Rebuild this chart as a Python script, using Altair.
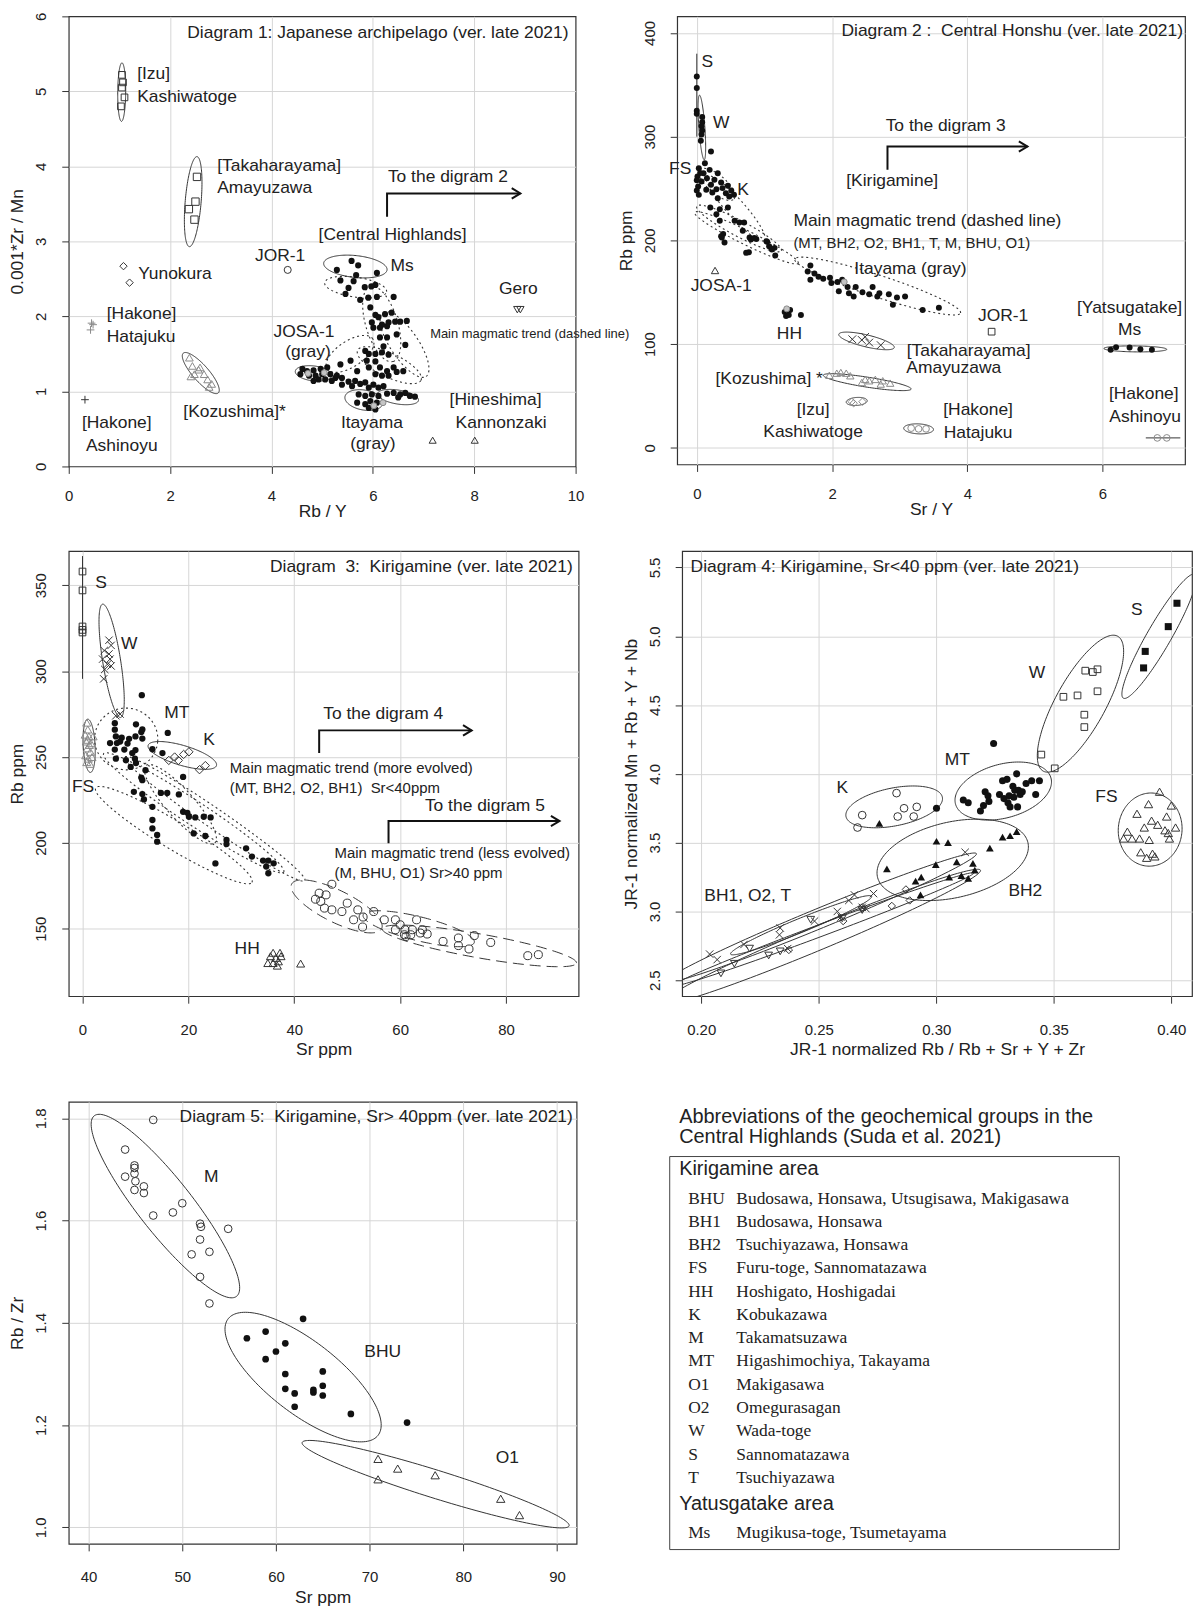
import altair as alt
import numpy as np
import pandas as pd

SANS = "Liberation Sans"
SERIF = "Liberation Serif"
INK = "#222222"
GRID = "#d6d6d6"
OPEN = "#333333"
GRAY = "#8a8a8a"
NB = "\u00a0"

# ---------------- Diagram 1 : Japanese archipelago ----------------
d1_izu = [(1.05, 5.22), (1.07, 5.12), (1.05, 5.05), (1.10, 4.92), (1.03, 4.80)]
d1_taka = [(2.53, 3.86), (2.50, 3.53), (2.37, 3.43), (2.48, 3.29)]
d1_yuno = [(1.08, 2.67), (1.20, 2.45)]
d1_hata = [(0.45, 1.91), (0.48, 1.89), (0.43, 1.82)]
d1_ashi = [(0.32, 0.89)]
d1_kozu = [(2.38, 1.45), (2.44, 1.34), (2.56, 1.29), (2.48, 1.23), (2.59, 1.32),
           (2.41, 1.20), (2.74, 1.16), (2.82, 1.10), (2.77, 1.06), (2.67, 1.23)]
d1_jor = [(4.32, 2.62)]
d1_gero = [(8.85, 2.09), (8.91, 2.09)]
d1_hine = [(7.18, 0.35), (8.01, 0.35)]
d1_gray = [(5.04, 1.25), (6.20, 0.85), (6.02, 0.81), (4.72, 1.24)]
d1_central = [
    (5.29, 2.62), (5.58, 2.74), (5.71, 2.68), (6.08, 2.58),
    (5.67, 2.55), (5.36, 2.48), (5.62, 2.47), (5.52, 2.38), (5.84, 2.39), (5.97, 2.40),
    (6.05, 2.42), (5.46, 2.30), (5.75, 2.22), (5.91, 2.25), (6.08, 2.26), (6.41, 2.26),
    (5.95, 2.12), (6.05, 2.02), (6.24, 2.03), (6.37, 2.05), (6.11, 1.99), (5.98, 1.92),
    (6.18, 1.89), (6.31, 1.92), (6.44, 1.93), (6.54, 1.93), (6.67, 1.94), (6.01, 1.85),
    (6.14, 1.85), (6.28, 1.87), (6.14, 1.72), (6.28, 1.72), (6.47, 1.76), (6.21, 1.60),
    (6.64, 1.62), (5.85, 1.54), (5.92, 1.50), (6.05, 1.50), (6.18, 1.52), (6.31, 1.49),
    (5.56, 1.41), (5.36, 1.36), (5.88, 1.41), (6.05, 1.40), (5.69, 1.27), (5.92, 1.32),
    (6.14, 1.32), (6.28, 1.27), (6.41, 1.32), (6.05, 1.23), (6.18, 1.21), (6.31, 1.21),
    (6.47, 1.26), (6.60, 1.27),
    (4.61, 1.30), (4.70, 1.27), (4.83, 1.28), (4.97, 1.30), (5.10, 1.32), (4.74, 1.21),
    (4.87, 1.21), (5.00, 1.23), (5.16, 1.23), (5.26, 1.18), (5.39, 1.18), (5.52, 1.13),
    (5.65, 1.14), (5.75, 1.10), (5.85, 1.12), (5.59, 1.07), (5.92, 1.05), (6.01, 1.09),
    (6.11, 1.05), (6.21, 1.07),
    (6.28, 0.97), (6.41, 0.98), (6.54, 0.96), (6.64, 0.98), (6.73, 0.94), (6.83, 0.93),
    (6.50, 0.92), (5.72, 0.96), (5.85, 0.94), (5.98, 0.96), (6.11, 0.94), (5.69, 0.85),
    (5.85, 0.83), (5.95, 0.87), (6.08, 0.85), (5.92, 0.78), (6.05, 0.76), (5.29, 1.21),
    (4.57, 1.23), (4.93, 1.16), (5.06, 1.16), (4.83, 1.14), (5.19, 1.14), (5.39, 1.09)]
# ellipses: major-axis end points (x1, y1, x2, y2) and minor half-width in px
d1_ell_solid = [(1.05, 5.38, 1.04, 4.60, 4), (2.53, 4.13, 2.38, 2.93, 8),
                (2.26, 1.51, 2.95, 0.98, 8), (5.03, 2.71, 6.28, 2.62, 11),
                (4.47, 1.27, 5.19, 1.21, 7.5), (5.45, 0.93, 6.20, 0.84, 10),
                (6.09, 0.97, 6.90, 0.88, 7)]
d1_ell_dot = [(5.05, 2.45, 6.27, 2.33, 10), (5.95, 2.40, 6.40, 1.40, 16),
              (6.20, 2.05, 7.05, 1.20, 14), (5.10, 1.30, 6.00, 1.70, 13),
              (5.70, 1.55, 6.95, 1.15, 12)]
d1_arrow = [(6.28, 3.33), (6.28, 3.64), (8.91, 3.64)]
d1_text = [
    ("Diagram 1: Japanese archipelago (ver. late 2021)", 9.86, 5.78, "right", 17.5),
    ("[Izu]", 1.35, 5.23, "left", 17.5), ("Kashiwatoge", 1.35, 4.92, "left", 17.5),
    ("[Takaharayama]", 2.93, 4.00, "left", 17.5), ("Amayuzawa", 2.93, 3.71, "left", 17.5),
    ("Yunokura", 1.37, 2.56, "left", 17.5),
    ("[Hakone]", 0.75, 2.03, "left", 17.5), ("Hatajuku", 0.75, 1.72, "left", 17.5),
    ("[Hakone]", 0.26, 0.58, "left", 17.5), ("Ashinoyu", 0.34, 0.27, "left", 17.5),
    ("[Kozushima]*", 2.26, 0.72, "left", 17.5),
    ("JOR-1", 4.17, 2.80, "center", 17.5),
    ("[Central Highlands]", 6.39, 3.09, "center", 17.5),
    ("Ms", 6.35, 2.67, "left", 17.5), ("Gero", 8.87, 2.36, "center", 17.5),
    ("JOSA-1", 4.64, 1.79, "center", 17.5), ("(gray)", 4.72, 1.52, "center", 17.5),
    ("Itayama", 5.98, 0.58, "center", 17.5), ("(gray)", 6.00, 0.30, "center", 17.5),
    ("[Hineshima]", 8.42, 0.88, "center", 17.5), ("Kannonzaki", 8.53, 0.58, "center", 17.5),
    ("To the digram 2", 7.48, 3.86, "center", 17.5),
    ("Main magmatic trend (dashed line)", 7.13, 1.76, "left", 13)]

# ---------------- Diagram 2 : Central Honshu ----------------
d2_kiri = [
    (0.0, 358), (0.0, 347), (0.0, 325), (0.0, 322),
    (0.08, 319), (0.08, 314), (0.07, 310), (0.08, 306), (0.07, 302), (0.06, 296),
    (0.21, 285.6), (0.12, 274.4), (0.03, 269.6), (0.19, 268), (0.10, 264.8), (0.31, 264.8),
    (0.01, 261.6), (0.15, 260), (0.26, 258.4), (0.07, 256.8), (0.36, 255.9), (0.21, 253.6),
    (0.02, 252), (0.46, 252.6), (0.14, 248.8), (0.29, 249.4), (0.38, 250.4), (0.51, 248.1),
    (0.03, 243.9), (0.23, 246.1), (0.43, 245.5), (0.31, 240.7), (0.48, 242.3), (0.20, 231.7),
    (0.34, 230.1), (0.46, 231.7), (0.29, 225.3), (0.34, 218.9), (0.56, 218.9), (0.63, 217.3),
    (0.70, 217.3), (0.39, 206.1), (0.68, 209.3), (0.78, 202.9), (0.88, 201.3), (0.37, 202.9),
    (1.04, 198.7), (0.0, 248), (0.05, 265), (0.0, 258), (0.55, 244),
    (0.36, 204), (0.41, 198), (0.77, 188.6), (0.73, 188), (0.80, 200.8), (0.85, 202.4),
    (1.03, 199.2), (1.07, 194.4), (1.15, 192.8), (1.16, 185.4), (1.11, 191.2),
    (1.68, 175.8), (1.64, 170), (1.74, 168), (1.80, 165), (1.68, 162), (1.87, 163),
    (1.97, 164), (1.99, 159), (2.08, 160), (2.15, 162), (2.23, 155), (2.10, 151),
    (2.35, 155), (2.25, 149), (2.45, 150), (2.60, 155), (2.55, 148), (2.67, 146),
    (2.70, 149), (2.84, 148), (2.96, 145), (3.08, 146), (2.90, 138), (3.34, 133),
    (3.58, 135), (2.32, 146),
    (1.30, 131), (1.34, 129), (1.32, 127), (1.38, 133), (1.36, 128), (1.54, 128)]
d2_gray = [(2.18, 160), (1.33, 134)]
d2_josa = [(0.27, 171)]
d2_jor = [(4.36, 112)]
d2_taka = [(2.30, 104.7), (2.44, 104), (2.49, 107), (2.55, 101.5), (2.72, 99)]
d2_kozu = [(1.96, 70), (2.07, 72), (2.13, 72.7), (2.21, 72), (2.27, 69.5), (2.49, 66),
           (2.55, 64.7), (2.64, 66), (2.75, 64.7), (2.86, 62.4), (2.44, 63), (2.72, 61.5)]
d2_izu = [(2.29, 44.5), (2.45, 44.5), (2.32, 43)]
d2_hata = [(3.17, 19), (3.28, 18.3), (3.39, 18.3)]
d2_yatsu = [(6.12, 94.5), (6.20, 97), (6.40, 96.7), (6.56, 95), (6.73, 94.5)]
d2_ashi = [(6.81, 9.6), (6.95, 9.6)]
d2_ell_solid = [(0.04, 340, 0.11, 277.7, 3), (2.10, 109.5, 2.92, 96.7, 6),
                (1.87, 70, 3.17, 56.7, 5), (2.21, 44, 2.52, 45.5, 4),
                (3.06, 19, 3.50, 17.6, 5), (6.02, 95.8, 6.95, 95, 3)]
d2_ell_dot = [(-0.03, 227, 1.50, 178, 7), (0.0, 233, 1.25, 190, 8),
              (1.45, 182, 3.90, 130, 11), (0.15, 262, 1.00, 200, 9),
              (0.05, 268, 0.55, 240, 9)]
d2_lines = [[(0.0, 300), (0.0, 380)], [(6.64, 9.6), (7.15, 9.6)]]
d2_arrow = [(2.82, 268), (2.82, 290.5), (4.89, 290.5)]
d2_text = [
    ("Diagram 2 :" + NB + " Central Honshu (ver. late 2021)", 7.19, 402, "right", 17.5),
    ("S", 0.07, 372, "left", 17.5), ("W", 0.24, 313, "left", 17.5),
    ("FS", -0.41, 269, "left", 17.5), ("K", 0.60, 249, "left", 17.5),
    ("To the digram 3", 3.68, 310.6, "center", 17.5),
    ("[Kirigamine]", 2.89, 257, "center", 17.5),
    ("Main magmatic trend (dashed line)", 3.41, 219, "center", 17.5),
    ("(MT, BH2, O2, BH1, T, M, BHU, O1)", 3.18, 197.6, "center", 15),
    ("Itayama (gray)", 3.16, 172, "center", 17.5),
    ("JOSA-1", 0.36, 156, "center", 17.5), ("HH", 1.37, 109.5, "center", 17.5),
    ("JOR-1", 4.53, 127, "center", 17.5),
    ("[Takaharayama]", 4.02, 93.5, "center", 17.5), ("Amayuzawa", 3.80, 76.5, "center", 17.5),
    ("[Kozushima] *", 1.07, 66, "center", 17.5),
    ("[Izu]", 1.72, 36.5, "center", 17.5), ("Kashiwatoge", 1.72, 15, "center", 17.5),
    ("[Hakone]", 4.16, 36.5, "center", 17.5), ("Hatajuku", 4.16, 14.4, "center", 17.5),
    ("[Yatsugatake]", 6.40, 135, "center", 17.5), ("Ms", 6.40, 114, "center", 17.5),
    ("[Hakone]", 6.61, 52, "center", 17.5), ("Ashinoyu", 6.63, 29.5, "center", 17.5)]

# ---------------- Diagram 3 : Kirigamine ----------------
d3_S = [(0, 358), (0, 347), (0, 326), (0, 324), (0, 322.5)]
d3_W = [(5.0, 318), (5.4, 315), (4.1, 312), (5.0, 310), (3.8, 307), (5.2, 307), (4.7, 304),
        (5.4, 303), (4.2, 301), (4.0, 295.5), (7.1, 275), (6.3, 274)]
d3_FS = [(0.8, 270), (1.0, 266), (0.5, 263), (1.2, 262), (0.7, 259), (1.3, 257), (0.9, 255),
         (1.5, 253), (0.6, 251), (1.1, 249), (0.8, 247), (1.4, 246), (1.8, 250), (2.0, 262),
         (1.0, 260), (1.6, 258)]
d3_K = [(16.3, 248), (17.4, 250), (18.1, 248), (19.1, 251.5), (20.1, 253), (22.1, 242.6),
        (23.2, 245)]
d3_HH = [(35.5, 134), (36.0, 136), (36.5, 133), (37.0, 131), (36.0, 130), (37.5, 134),
         (35.0, 130), (36.8, 128.5), (37.3, 136), (41.2, 129.7)]
d3_low_sr = [
    (6.1, 269.7), (10.1, 269), (16.1, 264), (6.1, 265.9), (11.1, 264.5), (6.3, 262),
    (7.4, 261.2), (5.2, 258.1), (6.5, 258.1), (11.3, 260.7), (8.5, 257.8), (13.2, 254.5),
    (15.1, 252.3), (6.1, 254.3), (7.9, 254.3), (9.4, 252.3), (6.3, 249), (8.2, 248.1),
    (10.1, 246.5), (9.1, 244.2), (11.9, 242.3), (19.0, 238.4), (11.1, 238), (11.3, 236.5),
    (9.7, 229.7), (14.8, 229.1), (16.0, 229.1), (18.2, 228.2), (11.3, 228.4), (11.6, 225.3),
    (13.2, 221), (19.0, 218.1), (20.1, 215.2), (21.3, 214.8), (22.9, 215.2), (24.2, 214.8),
    (13.2, 213.3), (19.8, 217.5), (21.0, 205.5), (23.2, 204), (13.2, 208.4), (14.1, 204.6),
    (14.1, 200.7), (27.2, 201.7), (27.2, 199.3), (30.9, 196.8), (32.0, 192), (34.1, 189.7),
    (35.1, 189.7), (36.1, 188.1), (34.7, 186.2), (35.1, 182.3), (25.1, 188.0), (11.2, 286),
    (7.1, 259), (10.0, 262), (11.3, 266), (9.9, 249), (10.0, 254), (8.8, 260.6)]
d3_high_sr = [
    (47.1, 175.9), (44.0, 167.2), (45.0, 165.9), (46.0, 169.7), (44.7, 170.7), (45.7, 162.0),
    (47.1, 161.0), (49.0, 160.0), (50.0, 164.9), (52.0, 161.0), (53.0, 156.8), (51.2, 155.2),
    (52.9, 151.0), (55.0, 160.0), (57.0, 155.2), (59.1, 155.2), (60.0, 152.3), (59.1, 149.4),
    (60.9, 149.4), (60.8, 146.5), (61.1, 145.5), (62.3, 149.4), (63.1, 155.2), (62.0, 146.5),
    (63.8, 147.5), (64.2, 149.4), (65.1, 146.9), (68.1, 142.6), (71.0, 144.6), (71.0, 140.2),
    (73.0, 138.2), (74.0, 146.0), (77.1, 142.0), (84.1, 134.3), (86.1, 134.9)]
d3_ell_solid = [(3.8, 339, 7.2, 273, 9), (1.0, 272, 1.5, 241, 6), (12.4, 256.8, 25.3, 245, 10)]
d3_ell_long = [(39.5, 176, 56.5, 150, 16), (53, 158, 74, 142, 12), (56.6, 150, 93.3, 130, 12)]
d3_ell_dot = [(2.3, 262, 14.2, 259, 31), (2.5, 232, 32, 177, 14), (4.0, 252, 38, 183, 12),
              (8, 250, 42, 178, 10), (12, 245, 25, 200, 14)]
d3_lines = [[(0, 295.5), (0, 367)]]
d3_arrows = [[(44.7, 252.3), (44.7, 265.5), (73.5, 265.5)],
             [(57.8, 199.7), (57.8, 212.7), (90.1, 212.7)]]
d3_text = [
    ("Diagram" + NB + " 3:" + NB + " Kirigamine (ver. late 2021)", 92.6, 360.6, "right", 17.5),
    ("S", 3.5, 351.5, "center", 17.5), ("W", 8.8, 316, "center", 17.5),
    ("MT", 17.8, 275.5, "center", 17.5), ("K", 23.9, 260, "center", 17.5),
    ("FS", 0.1, 232.6, "center", 17.5), ("HH", 31.1, 138.2, "center", 17.5),
    ("To the digram 4", 56.8, 274.8, "center", 17.5),
    ("To the digram 5", 76.0, 221.4, "center", 17.5),
    ("Main magmatic trend (more evolved)", 27.8, 243.6, "left", 15),
    ("(MT, BH2, O2, BH1)" + NB + " Sr<40ppm", 27.8, 232.0, "left", 15),
    ("Main magmatic trend (less evolved)", 47.6, 194.0, "left", 15),
    ("(M, BHU, O1) Sr>40 ppm", 47.6, 182.3, "left", 15)]

# ---------------- Diagram 4 : Kirigamine, Sr<40 ppm ----------------
d4_S = [(0.4024, 5.24), (0.3987, 5.07), (0.3889, 4.89), (0.3882, 4.77)]
d4_W = [(0.3541, 4.56), (0.3601, 4.57), (0.3634, 4.75), (0.3666, 4.74), (0.3686, 4.76),
        (0.3686, 4.60), (0.3630, 4.43), (0.3630, 4.34), (0.3447, 4.14), (0.3504, 4.04)]
d4_MT = [(0.3115, 3.81), (0.3136, 3.79), (0.3188, 3.73), (0.3208, 3.87), (0.3220, 3.84),
         (0.3201, 3.77), (0.3224, 3.80), (0.3244, 4.22), (0.3269, 3.85), (0.3282, 3.95),
         (0.3301, 3.96), (0.3288, 3.82), (0.3305, 3.79), (0.3314, 3.76), (0.3326, 3.91),
         (0.3334, 3.88), (0.3342, 4.00), (0.3350, 3.88), (0.3357, 3.85), (0.3346, 3.76),
         (0.3366, 3.87), (0.3382, 3.93), (0.3406, 3.95), (0.3439, 3.95), (0.3423, 3.85),
         (0.3310, 3.84), (0.3330, 3.83), (0.3001, 3.75)]
d4_K = [(0.2665, 3.61), (0.2685, 3.70), (0.2831, 3.86), (0.2836, 3.69), (0.2863, 3.75),
        (0.2904, 3.69), (0.2917, 3.76)]
d4_FS = [(0.3950, 3.87), (0.3903, 3.78), (0.3854, 3.71), (0.4000, 3.77), (0.3980, 3.69),
         (0.3916, 3.66), (0.3885, 3.61), (0.3942, 3.63), (0.3973, 3.59), (0.4018, 3.61),
         (0.3813, 3.58), (0.3833, 3.53), (0.3797, 3.53), (0.3865, 3.53), (0.3906, 3.52),
         (0.3987, 3.57), (0.3992, 3.53), (0.3870, 3.43), (0.3920, 3.42), (0.3895, 3.39),
         (0.3930, 3.40)]
d4_BH2 = [(0.2790, 3.31), (0.3001, 3.51), (0.3050, 3.50), (0.2998, 3.34), (0.3087, 3.36),
          (0.3156, 3.35), (0.3055, 3.25), (0.3107, 3.26), (0.3136, 3.24), (0.3164, 3.30),
          (0.2912, 3.22), (0.2936, 3.25), (0.2933, 3.12), (0.3228, 3.46), (0.3282, 3.54),
          (0.3314, 3.55), (0.3342, 3.58), (0.2758, 3.64)]
d4_BH1 = [(0.2036, 2.69), (0.2068, 2.65), (0.2182, 2.76), (0.2336, 2.88), (0.2333, 2.83),
          (0.2579, 3.00), (0.2595, 2.96), (0.2628, 3.08), (0.2652, 3.12), (0.2685, 3.03),
          (0.2733, 3.13), (0.2482, 2.93), (0.2368, 2.73), (0.2701, 3.02), (0.3123, 3.43)]
d4_O2 = [(0.2084, 2.55), (0.2141, 2.62), (0.2206, 2.73), (0.2287, 2.68), (0.2336, 2.71),
         (0.2466, 2.94), (0.2685, 3.01), (0.2600, 2.95)]
d4_T = [(0.2373, 2.72), (0.2811, 3.04), (0.2871, 3.16), (0.2887, 3.08), (0.2604, 2.93),
        (0.2685, 3.03)]
d4_ell_solid = [(0.3796, 4.55, 0.4100, 5.45, 12), (0.3455, 4.02, 0.3772, 5.00, 25),
                (0.3082, 3.78, 0.3488, 3.97, 27), (0.2616, 3.69, 0.3026, 3.83, 19),
                (0.3925, 3.86, 0.3895, 3.33, 32), (0.2750, 3.25, 0.3390, 3.50, 38),
                (0.1850, 2.49, 0.3171, 3.42, 10), (0.1830, 2.33, 0.3188, 3.30, 12),
                (0.2125, 2.69, 0.2725, 3.11, 7), (0.1880, 2.46, 0.3160, 3.28, 6)]
d4_text = [
    ("Diagram 4: Kirigamine, Sr<40 ppm (ver. late 2021)", 0.1955, 5.505, "left", 17.5),
    ("S", 0.3853, 5.19, "center", 17.5), ("W", 0.3428, 4.73, "center", 17.5),
    ("MT", 0.3090, 4.10, "center", 17.5), ("K", 0.2600, 3.895, "center", 17.5),
    ("FS", 0.3724, 3.83, "center", 17.5), ("BH2", 0.3379, 3.15, "center", 17.5),
    ("BH1, O2, T", 0.2198, 3.11, "center", 17.5)]

# ---------------- Diagram 5 : Kirigamine, Sr>40 ppm ----------------
d5_M = [(46.9, 1.797), (43.9, 1.739), (44.9, 1.708), (44.9, 1.703), (44.9, 1.692),
        (43.9, 1.686), (45.0, 1.677), (45.9, 1.667), (44.9, 1.660), (45.9, 1.654),
        (50.0, 1.634), (49.0, 1.616), (46.9, 1.610), (51.9, 1.594), (52.0, 1.588),
        (54.9, 1.584), (51.9, 1.563), (51.0, 1.534), (52.9, 1.539), (51.9, 1.490),
        (52.9, 1.438)]
d5_BHU = [(62.9, 1.408), (58.9, 1.383), (56.9, 1.370), (61.0, 1.360), (60.0, 1.344),
          (58.9, 1.329), (61.0, 1.300), (65.0, 1.305), (65.0, 1.277), (61.0, 1.271),
          (64.0, 1.269), (62.0, 1.262), (64.0, 1.264), (65.0, 1.258), (62.0, 1.236),
          (68.0, 1.222), (74.0, 1.205)]
d5_O1 = [(70.9, 1.134), (73.0, 1.115), (70.9, 1.094), (77.0, 1.102), (84.0, 1.056),
         (86.0, 1.024)]
d5_ell_solid = [(40.6, 1.805, 55.8, 1.452, 27), (54.9, 1.408, 70.9, 1.180, 36),
                (62.8, 1.166, 91.3, 1.003, 14)]
d5_text = [
    ("Diagram 5:" + NB + " Kirigamine, Sr> 40ppm (ver. late 2021)", 91.7, 1.802, "right", 17.5),
    ("M", 53.1, 1.686, "center", 17.5), ("BHU", 71.4, 1.343, "center", 17.5),
    ("O1", 84.7, 1.136, "center", 17.5)]

# ---------------- Abbreviation table ----------------
table_header = ["Abbreviations of the geochemical groups in the",
                "Central Highlands (Suda et al. 2021)"]
kiri_codes = ["BHU", "BH1", "BH2", "FS", "HH", "K", "M", "MT", "O1", "O2", "W", "S", "T"]
kiri_names = ["Budosawa, Honsawa, Utsugisawa, Makigasawa", "Budosawa, Honsawa",
              "Tsuchiyazawa, Honsawa", "Furu-toge, Sannomatazawa", "Hoshigato, Hoshigadai",
              "Kobukazawa", "Takamatsuzawa", "Higashimochiya, Takayama", "Makigasawa",
              "Omegurasagan", "Wada-toge", "Sannomatazawa", "Tsuchiyazawa"]
yatsu_codes = ["Ms"]
yatsu_names = ["Mugikusa-toge, Tsumetayama"]

CROSS = "M-1,-1L1,1M-1,1L1,-1"
PLUS = "M-1,0L1,0M0,-1L0,1"
HEAD = "M-1,-0.6L0,0L-1,0.6"


def ellipse_frame(specs, kx, ky, n=160):
    rows = []
    t = np.linspace(0, 2 * np.pi, n)
    for k, (x1, y1, x2, y2, b) in enumerate(specs):
        X1, Y1, X2, Y2 = x1 * kx, y1 * ky, x2 * kx, y2 * ky
        cx, cy = (X1 + X2) / 2, (Y1 + Y2) / 2
        a = np.hypot(X2 - X1, Y2 - Y1) / 2
        th = np.arctan2(Y2 - Y1, X2 - X1)
        ex = cx + a * np.cos(t) * np.cos(th) - b * np.sin(t) * np.sin(th)
        ey = cy + a * np.cos(t) * np.sin(th) + b * np.sin(t) * np.cos(th)
        for i in range(n):
            rows.append({"x": ex[i] / kx, "y": ey[i] / ky, "id": k, "o": i})
    return pd.DataFrame(rows)


def path_frame(paths):
    rows = []
    for k, p in enumerate(paths):
        for i, (x, y) in enumerate(p):
            rows.append({"x": x, "y": y, "id": k, "o": i})
    return pd.DataFrame(rows)


class Panel:
    def __init__(self, w, h, xdom, ydom, xticks, yticks, xtitle, ytitle,
                 xfmt="d", yfmt="d", hide_edge_grid=False, xlab_pad=21, xtitle_y=50):
        self.w, self.h = w, h
        self.kx = w / (xdom[1] - xdom[0])
        self.ky = h / (ydom[1] - ydom[0])
        self.xs = alt.Scale(domain=list(xdom), nice=False, zero=False)
        self.ys = alt.Scale(domain=list(ydom), nice=False, zero=False)
        common = dict(grid=True, gridWidth=1, domain=False, ticks=True, tickColor="#333333",
                      tickSize=7, tickWidth=1, labelFont=SANS, labelFontSize=15,
                      labelColor=INK, labelFlush=False, labelOverlap=False,
                      titleFont=SANS, titleFontSize=17.5, titleFontWeight="normal",
                      titleColor=INK)
        if hide_edge_grid:
            xgc = alt.condition(f"datum.value <= {xdom[0]} || datum.value >= {xdom[1]}",
                                alt.value("transparent"), alt.value(GRID))
            ygc = alt.condition(f"datum.value <= {ydom[0]} || datum.value >= {ydom[1]}",
                                alt.value("transparent"), alt.value(GRID))
        else:
            xgc, ygc = GRID, GRID
        self.xaxis = alt.Axis(values=xticks, title=xtitle, format=xfmt, gridColor=xgc,
                              labelBaseline="middle", labelPadding=xlab_pad,
                              titleX=w / 2, titleY=xtitle_y,
                              titleBaseline="middle", titleAlign="center", **common)
        self.yaxis = alt.Axis(values=yticks, title=ytitle, format=yfmt, gridColor=ygc,
                              labelAngle=-90, labelAlign="center", labelBaseline="middle",
                              labelPadding=21, titleX=-51, titleY=h / 2, titleAngle=-90,
                              titleBaseline="middle", titleAlign="center", **common)
        carrier = alt.Chart(pd.DataFrame({"x": [xdom[0]], "y": [ydom[0]]})).mark_point(
            opacity=0).encode(**self.xy())
        self.layers = [carrier]

    def xy(self):
        return dict(x=alt.X("x:Q", scale=self.xs, axis=self.xaxis),
                    y=alt.Y("y:Q", scale=self.ys, axis=self.yaxis))

    def points(self, pts, shape="circle", filled=True, color="#111111", size=30, sw=1.0,
               stroke=None):
        df = pd.DataFrame(pts, columns=["x", "y"])
        kw = dict(shape=shape, filled=filled, size=size, opacity=1, strokeWidth=sw, color=color)
        if stroke:
            kw["stroke"] = stroke
        self.layers.append(alt.Chart(df).mark_point(**kw).encode(**self.xy()))

    def ellipses(self, specs, dash=None, sw=1.0, color="#333333"):
        df = ellipse_frame(specs, self.kx, self.ky)
        kw = dict(color=color, strokeWidth=sw, clip=True)
        if dash:
            kw["strokeDash"] = dash
        self.layers.append(alt.Chart(df).mark_line(**kw).encode(
            detail="id:N", order="o:Q", **self.xy()))

    def paths(self, paths, sw=1.0, color="#333333"):
        df = path_frame(paths)
        self.layers.append(alt.Chart(df).mark_line(color=color, strokeWidth=sw).encode(
            detail="id:N", order="o:Q", **self.xy()))

    def arrows(self, paths):
        self.paths(paths, sw=2.0, color="#111111")
        tips = pd.DataFrame([p[-1] for p in paths], columns=["x", "y"])
        self.layers.append(alt.Chart(tips).mark_point(
            shape=HEAD, filled=False, size=300, strokeWidth=2, color="#111111",
            opacity=1).encode(**self.xy()))

    def texts(self, items):
        df = pd.DataFrame(items, columns=["t", "x", "y", "align", "size"])
        for (al, sz), g in df.groupby(["align", "size"], sort=False):
            self.layers.append(alt.Chart(g[["t", "x", "y"]]).mark_text(
                align=al, baseline="middle", fontSize=float(sz), font=SANS,
                color=INK).encode(text="t:N", **self.xy()))

    def chart(self):
        return alt.layer(*self.layers).properties(width=self.w, height=self.h)


# ---- Diagram 1
p1 = Panel(509, 452, (0, 10), (0, 6), [0, 2, 4, 6, 8, 10], [0, 1, 2, 3, 4, 5, 6],
           "Rb / Y", "0.001*Zr / Mn", hide_edge_grid=True, xlab_pad=22, xtitle_y=45)
p1.ellipses(d1_ell_solid, sw=1)
p1.ellipses(d1_ell_dot, dash=[2, 3], sw=1.1)
p1.points(d1_izu, "square", False, OPEN, 45)
p1.points(d1_taka, "square", False, OPEN, 55)
p1.points(d1_yuno, "diamond", False, OPEN, 55)
p1.points(d1_hata, PLUS, False, GRAY, 60)
p1.points(d1_ashi, PLUS, False, "#333333", 60)
p1.points(d1_kozu, "triangle-up", False, GRAY, 60)
p1.points(d1_jor, "circle", False, OPEN, 50)
p1.points(d1_gero, "triangle-down", False, OPEN, 55)
p1.points(d1_hine, "triangle-up", False, OPEN, 50)
p1.points(d1_central, "circle", True, "#111111", 38)
p1.points(d1_gray, "circle", True, "#c4c4c4", 36, stroke="#888888")
p1.arrows([d1_arrow])
p1.texts(d1_text)

# ---- Diagram 2
p2 = Panel(510, 450, (-0.29, 7.22), (-16, 416), [0, 2, 4, 6], [0, 100, 200, 300, 400],
           "Sr / Y", "Rb ppm", xlab_pad=22, xtitle_y=45)
p2.ellipses(d2_ell_solid, sw=1)
p2.ellipses(d2_ell_dot, dash=[2, 3], sw=1.1)
p2.paths(d2_lines, sw=1)
p2.points(d2_kiri, "circle", True, "#111111", 36)
p2.points(d2_gray, "circle", True, "#c4c4c4", 36, stroke="#888888")
p2.points(d2_josa, "triangle-up", False, OPEN, 55)
p2.points(d2_jor, "square", False, OPEN, 45)
p2.points(d2_taka, CROSS, False, OPEN, 60)
p2.points(d2_kozu, "triangle-up", False, GRAY, 55)
p2.points(d2_izu, "diamond", False, GRAY, 55)
p2.points(d2_hata, "circle", False, GRAY, 45)
p2.points(d2_yatsu, "circle", True, "#111111", 36)
p2.points(d2_ashi, "circle", False, GRAY, 45)
p2.arrows([d2_arrow])
p2.texts(d2_text)

# ---- Diagram 3
p3 = Panel(512, 447, (-2.6, 93.7), (110.7, 369.9), [0, 20, 40, 60, 80],
           [150, 200, 250, 300, 350], "Sr ppm", "Rb ppm", xlab_pad=26, xtitle_y=54)
p3.ellipses(d3_ell_solid, sw=1)
p3.ellipses(d3_ell_long, dash=[11, 6], sw=1)
p3.ellipses(d3_ell_dot, dash=[2, 3], sw=1.1)
p3.paths(d3_lines, sw=1)
p3.points(d3_S, "square", False, OPEN, 45)
p3.points(d3_W, CROSS, False, OPEN, 55)
p3.points(d3_FS, "triangle-up", False, GRAY, 65)
p3.points(d3_K, "diamond", False, OPEN, 70)
p3.points(d3_HH, "triangle-up", False, OPEN, 65)
p3.points(d3_low_sr, "circle", True, "#111111", 40)
p3.points(d3_high_sr, "circle", False, OPEN, 65)
p3.arrows(d3_arrows)
p3.texts(d3_text)

# ---- Diagram 4
p4 = Panel(512, 447, (0.1919, 0.4088), (2.384, 5.619), [0.20, 0.25, 0.30, 0.35, 0.40],
           [2.5, 3.0, 3.5, 4.0, 4.5, 5.0, 5.5], "JR-1 normalized Rb / Rb + Sr + Y + Zr",
           "JR-1 normalized Mn + Rb + Y + Nb", xfmt=".2f", yfmt=".1f",
           xlab_pad=26, xtitle_y=54)
p4.ellipses(d4_ell_solid, sw=1)
p4.points(d4_S, "square", True, "#111111", 50)
p4.points(d4_W, "square", False, OPEN, 45)
p4.points(d4_MT, "circle", True, "#111111", 50)
p4.points(d4_K, "circle", False, OPEN, 60)
p4.points(d4_FS, "triangle-up", False, OPEN, 70)
p4.points(d4_BH2, "triangle-up", True, "#111111", 60)
p4.points(d4_BH1, CROSS, False, OPEN, 55)
p4.points(d4_O2, "triangle-down", False, OPEN, 60)
p4.points(d4_T, "diamond", False, OPEN, 55)
p4.texts(d4_text)

# ---- Diagram 5
p5 = Panel(510, 444, (37.88, 92.1), (0.9677, 1.8325), [40, 50, 60, 70, 80, 90],
           [1.0, 1.2, 1.4, 1.6, 1.8], "Sr ppm", "Rb / Zr", yfmt=".1f",
           xlab_pad=26, xtitle_y=54)
p5.ellipses(d5_ell_solid, sw=1)
p5.points(d5_M, "circle", False, OPEN, 60)
p5.points(d5_BHU, "circle", True, "#111111", 45)
p5.points(d5_O1, "triangle-up", False, OPEN, 70)
p5.texts(d5_text)

# ---- Abbreviation table (panel 6)
T_W, T_H = 530, 444
tx = alt.Scale(domain=[0, T_W], nice=False, zero=False)
ty = alt.Scale(domain=[0, T_H], nice=False, zero=False, reverse=True)


def txy():
    return dict(x=alt.X("x:Q", scale=tx, axis=None), y=alt.Y("y:Q", scale=ty, axis=None))


head_df = pd.DataFrame({"t": table_header + ["Kirigamine area", "Yatusgatake area"],
                        "x": [21, 21, 21, 21], "y": [15.7, 35.7, 67.4, 404.0]})
row_y = [97.4 + 23.35 * i for i in range(len(kiri_codes))] + [433.4]
code_df = pd.DataFrame({"t": kiri_codes + yatsu_codes, "x": 30, "y": row_y})
name_df = pd.DataFrame({"t": kiri_names + yatsu_names, "x": 78.4, "y": row_y})
frame_df = pd.DataFrame({"x": [11.5], "x2": [463], "y": [55], "y2": [449.7]})

p6 = alt.layer(
    alt.Chart(frame_df).mark_rect(fillOpacity=0, stroke="#444444", strokeWidth=1).encode(
        x=alt.X("x:Q", scale=tx, axis=None), x2="x2:Q",
        y=alt.Y("y:Q", scale=ty, axis=None), y2="y2:Q"),
    alt.Chart(head_df).mark_text(align="left", baseline="middle", fontSize=20, font=SANS,
                                 color=INK).encode(text="t:N", **txy()),
    alt.Chart(code_df).mark_text(align="left", baseline="middle", fontSize=17.5, font=SERIF,
                                 color=INK).encode(text="t:N", **txy()),
    alt.Chart(name_df).mark_text(align="left", baseline="middle", fontSize=17.5, font=SERIF,
                                 color=INK).encode(text="t:N", **txy()),
).properties(width=T_W, height=T_H, view=alt.ViewBackground(stroke="transparent"))

row1 = alt.hconcat(p1.chart(), p2.chart(), spacing=102, bounds="flush")
row2 = alt.hconcat(p3.chart(), p4.chart(), spacing=104, bounds="flush")
row3 = alt.hconcat(p5.chart(), p6, spacing=82, bounds="flush")
lower = alt.vconcat(row2, row3, spacing=41, bounds="full")
chart = alt.vconcat(row1, lower, spacing=29, bounds="full").properties(
    padding={"left": 0, "top": 0, "right": 0, "bottom": 0}
).configure_view(stroke="#333333", strokeWidth=1.2)

chart.save("out.html", embed_options={"renderer": "svg", "actions": False})
